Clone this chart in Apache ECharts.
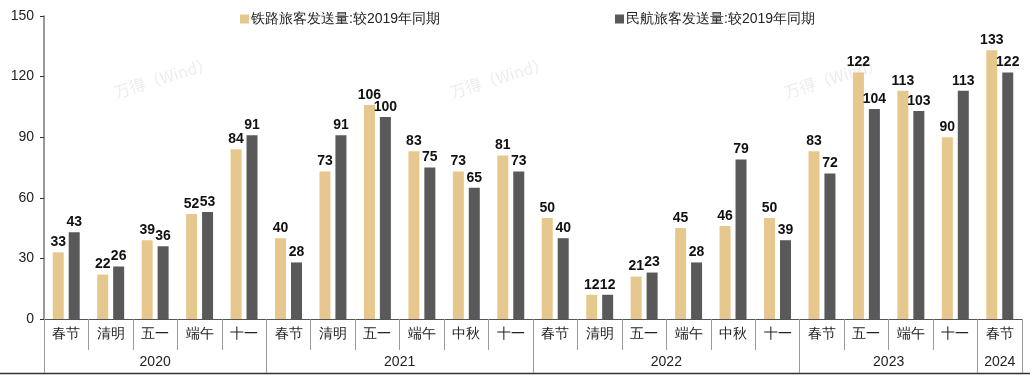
<!DOCTYPE html>
<html><head><meta charset="utf-8">
<script src="https://cdn.jsdelivr.net/npm/echarts@6/dist/echarts.min.js"></script>
<style>html,body{margin:0;padding:0;background:#fff}#c{width:1030px;height:380px}</style>
</head><body><div id="c"></div>
<script>
const categories = ['春节','清明','五一','端午','十一','春节','清明','五一','端午','中秋','十一','春节','清明','五一','端午','中秋','十一','春节','五一','端午','十一','春节'];
const years = ['2020','2021','2022','2023','2024'];
const groupSizes = [5,6,6,4,1];
const railway = [33,22,39,52,84,40,73,106,83,73,81,50,12,21,45,46,50,83,122,113,90,133];
const aviation = [43,26,36,53,91,28,91,100,75,65,73,40,12,23,28,79,39,72,104,103,113,122];
const yTicks = [0,30,60,90,120,150];
const seriesNames = ['铁路旅客发送量:较2019年同期','民航旅客发送量:较2019年同期'];

// year axis: half-category points
const n = categories.length * 2 + 1;
const yearAxisData = new Array(n).fill('');
const bounds = [0];
groupSizes.forEach(s => bounds.push(bounds[bounds.length-1] + s*2));
years.forEach((y,i) => { yearAxisData[(bounds[i]+bounds[i+1])/2] = y; });
const boundSet = new Set(bounds);

const font = 'Liberation Sans, Arial, sans-serif';
const chart = echarts.init(document.getElementById('c'));
const wm = (x,y) => ({type:'text', left:x, top:y, rotation:0.3, silent:true, z:-1,
  style:{text:'万得（Wind）', fill:'rgba(200,200,200,0.35)', font:'16px "Noto Sans CJK SC", sans-serif'}});
chart.setOption({
  animation:false,
  textStyle:{fontFamily:font},
  legend:[
    {data:[seriesNames[0]], left:235, top:7, icon:'rect', itemWidth:9, itemHeight:9, itemGap:0,
     textStyle:{fontSize:14, color:'#222', padding:[0,0,0,-3]}},
    {data:[seriesNames[1]], left:610, top:7, icon:'rect', itemWidth:9, itemHeight:9, itemGap:0,
     textStyle:{fontSize:14, color:'#222', padding:[0,0,0,-3]}}
  ],
  grid:{left:44, right:8, top:16, bottom:61},
  xAxis:[
    {type:'category', data:categories, position:'bottom',
     axisLine:{lineStyle:{color:'#555', width:1}},
     axisTick:{show:true, length:31, interval:0, lineStyle:{color:'#999'}},
     axisLabel:{fontSize:14, color:'#222', margin:8, interval:0}},
    {type:'category', data:yearAxisData, position:'bottom', boundaryGap:false,
     axisLine:{show:false},
     axisTick:{show:true, length:54, interval:(i)=>boundSet.has(i), lineStyle:{color:'#999'}},
     axisLabel:{fontSize:14, color:'#222', margin:36, interval:0, hideOverlap:false}}
  ],
  yAxis:{type:'value', min:0, max:150, interval:30,
    axisLine:{show:true, lineStyle:{color:'#777', width:1.5}},
    axisTick:{show:true, length:4, lineStyle:{color:'#333'}},
    splitLine:{show:false},
    axisLabel:{fontSize:14, color:'#222', margin:10,
      formatter:(v)=> yTicks.includes(v) ? String(v) : ''}},
  series:[
    {name:seriesNames[0], type:'bar', data:railway, barWidth:11, barGap:'45%',
     itemStyle:{color:'#E6C88E'},
     label:{show:true, position:'top', distance:3, fontSize:14, fontWeight:'bold', color:'#111'}},
    {name:seriesNames[1], type:'bar', data:aviation, barWidth:11,
     itemStyle:{color:'#595959'},
     label:{show:true, position:'top', distance:3, fontSize:14, fontWeight:'bold', color:'#111'}}
  ],
  graphic:[
    wm(112,55), wm(448,55), wm(782,55),
    {type:'line', shape:{x1:0,y1:373.5,x2:1030,y2:373.5}, style:{stroke:'#333', lineWidth:1.5}}
  ]
});
</script></body></html>
